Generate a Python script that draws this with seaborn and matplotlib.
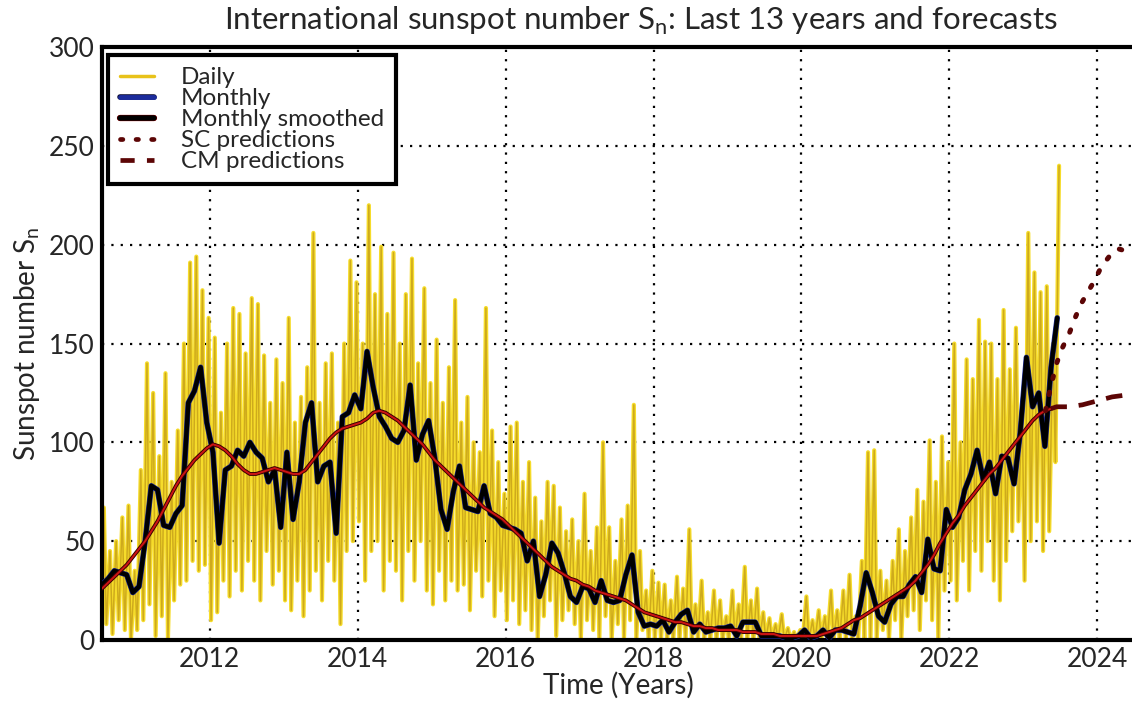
import numpy as np
import pandas as pd
import matplotlib
matplotlib.use("Agg")
import matplotlib.pyplot as plt
import matplotlib.patheffects as pe
from matplotlib.lines import Line2D
import seaborn as sns

# first month on the chart: July 2010, one value per month after that
first_year = 2010
first_month = 7

# monthly mean sunspot number (black line)
monthly = [
    28, 31, 35, 34, 33, 24,                                   # 2010 Jul-Dec
    27, 50, 78, 76, 58, 57, 64, 68, 120, 126, 138, 110,       # 2011
    95, 49, 86, 88, 96, 93, 100, 95, 92, 80, 86, 57,          # 2012
    95, 61, 80, 110, 120, 80, 88, 90, 54, 113, 115, 124,      # 2013
    117, 146, 128, 113, 108, 102, 100, 106, 129, 91, 104, 111,  # 2014
    92, 66, 56, 75, 88, 67, 66, 65, 78, 64, 62, 58,           # 2015
    57, 56, 54, 40, 50, 22, 33, 49, 44, 34, 22, 19,           # 2016
    27, 26, 19, 30, 20, 19, 20, 33, 43, 14, 7, 8,             # 2017
    7, 10, 4, 9, 13, 15, 4, 8, 4, 5, 6, 6,                    # 2018
    7, 2, 9, 9, 9, 2, 2, 2, 2, 1, 1, 2,                       # 2019
    5, 1, 2, 5, 1, 5, 5, 4, 3, 17, 34, 24,                    # 2020
    12, 9, 18, 22, 22, 28, 32, 24, 51, 36, 35, 66,            # 2021
    57, 62, 76, 84, 96, 81, 90, 74, 93, 92, 79, 105,          # 2022
    143, 118, 125, 98, 138, 163,                              # 2023 Jan-Jun
]

# 13-month smoothed sunspot number (red line)
smoothed = [
    26, 29, 32, 35, 38, 42,
    46, 50, 55, 60, 66, 72, 78, 83, 87, 91, 94, 97,
    99, 98, 96, 93, 89, 86, 84, 84, 85, 86, 87, 86,
    85, 84, 84, 86, 90, 94, 98, 102, 105, 107, 108, 109,
    110, 112, 115, 116, 115, 113, 111, 108, 105, 102, 99, 95,
    91, 88, 85, 82, 79, 76, 73, 70, 67, 65, 63, 61,
    58, 55, 52, 49, 46, 43, 40, 37, 35, 33, 31, 30,
    28, 27, 25, 24, 23, 22, 21, 20, 18, 16, 14, 13,
    12, 11, 10, 9, 9, 8, 7, 7, 6, 6, 5, 5,
    5, 5, 4, 4, 4, 3, 3, 3, 2, 2, 2, 2,
    2, 2, 2, 3, 4, 5, 6, 8, 10, 11, 13, 15,
    17, 19, 21, 23, 25, 27, 30, 34, 38, 43, 49, 54,
    59, 63, 68, 72, 76, 80, 84, 87, 91, 95, 99, 103,
    107, 111, 114, 116, 117,
]

# daily values: highest and lowest day of each month (yellow spikes)
daily_hi = [
    67, 45, 50, 62, 68, 35,
    86, 140, 125, 93, 135, 80, 106, 150, 191, 194, 177, 163,
    153, 115, 150, 168, 165, 145, 173, 170, 144, 120, 142, 130,
    163, 110, 123, 138, 206, 120, 140, 145, 110, 150, 192, 181,
    150, 220, 175, 199, 165, 196, 150, 175, 193, 140, 178, 130,
    152, 120, 138, 172, 110, 123, 100, 95, 168, 106, 90, 74,
    108, 110, 80, 90, 72, 60, 80, 78, 67, 55, 61, 50,
    74, 45, 57, 100, 57, 40, 61, 68, 119, 45, 25, 35,
    29, 28, 20, 32, 26, 56, 18, 30, 14, 25, 20, 12,
    25, 18, 37, 20, 26, 14, 11, 8, 13, 6, 4, 5,
    22, 10, 15, 12, 25, 15, 25, 33, 12, 40, 95, 96,
    35, 30, 40, 56, 45, 62, 76, 70, 101, 80, 103, 90,
    150, 100, 142, 132, 162, 151, 150, 132, 167, 137, 158, 120,
    206, 186, 176, 179, 150, 240,
]
daily_lo = [
    0, 8, 3, 10, 5, 0,
    5, 10, 18, 2, 12, 0, 20, 28, 30, 40, 35, 38,
    10, 14, 30, 22, 35, 25, 40, 30, 20, 45, 28, 35,
    20, 15, 30, 12, 25, 35, 20, 40, 30, 8, 45, 50,
    60, 30, 45, 50, 25, 40, 35, 20, 45, 30, 50, 25,
    18, 35, 20, 30, 25, 28, 15, 35, 22, 30, 12, 25,
    10, 20, 8, 15, 5, 0, 12, 20, 2, 10, 15, 8,
    0, 10, 5, 0, 12, 0, 8, 0, 10, 0, 5, 0,
    0, 0, 0, 0, 0, 0, 0, 0, 0, 0, 0, 0,
    0, 0, 0, 0, 0, 0, 0, 0, 0, 0, 0, 0,
    0, 0, 0, 0, 0, 0, 0, 0, 0, 0, 0, 0,
    0, 5, 0, 10, 0, 12, 15, 5, 20, 10, 0, 25,
    30, 20, 40, 25, 45, 35, 50, 30, 20, 40, 55, 60,
    30, 50, 60, 45, 55, 90,
]

# forecasts
sc_years = [2023.30, 2023.37, 2023.45, 2023.53, 2023.62, 2023.70, 2023.78, 2023.87,
            2023.95, 2024.03, 2024.12, 2024.20, 2024.28, 2024.37, 2024.45, 2024.55]
sc_vals = [116, 128, 140, 148, 155, 163, 170, 176, 181, 187, 192, 196, 198, 197, 195, 193]
cm_years = [2023.37, 2023.45, 2023.62, 2023.80, 2024.00, 2024.20, 2024.40, 2024.55]
cm_vals = [117, 118, 118, 119, 121, 123, 124, 125]


def month_time(n):
    k = np.arange(n)
    return first_year + (first_month - 1 + k + 0.5) / 12.0


t_month = month_time(len(monthly))
t_smooth = month_time(len(smoothed))
t_daily = month_time(len(daily_hi))

df_daily = pd.DataFrame({
    "t": np.ravel(np.column_stack([t_daily - 1 / 40, t_daily + 1 / 40])),
    "v": np.ravel(np.column_stack([daily_lo, daily_hi])),
})

sns.set_theme(style="white")
plt.rcParams["font.family"] = ["Lato", "DejaVu Sans"]
plt.rcParams["mathtext.fontset"] = "custom"
plt.rcParams["mathtext.rm"] = "Lato"

fig = plt.figure(figsize=(11.32, 7.04), dpi=100)
ax = fig.add_axes([0.090, 0.091, 0.912, 0.842])

dark_red = "#5c0505"

sns.lineplot(data=df_daily, x="t", y="v", ax=ax, sort=False, estimator=None,
             color="#f6dc2a", lw=3.0, zorder=2)
sns.lineplot(data=df_daily, x="t", y="v", ax=ax, sort=False, estimator=None,
             color="#b48a14", lw=1.1, alpha=0.6, zorder=2)
sns.lineplot(x=t_month, y=monthly, ax=ax, color="#1c2c9c", lw=4.0, zorder=3)
sns.lineplot(x=t_month, y=monthly, ax=ax, color="black", lw=3.2, zorder=3)
sns.lineplot(x=t_smooth, y=smoothed, ax=ax, color="#cc1414", lw=1.4, zorder=4,
             path_effects=[pe.Stroke(linewidth=2.8, foreground="#3a0000"), pe.Normal()])
sns.lineplot(x=sc_years, y=sc_vals, ax=ax, color=dark_red, lw=3.6, zorder=4,
             linestyle=(0, (0.5, 2.8)), dash_capstyle="round")
sns.lineplot(x=cm_years, y=cm_vals, ax=ax, color=dark_red, lw=3.4, zorder=4,
             linestyle=(0, (3.5, 2.5)))

ax.set_xlim(2010.54, 2024.5)
ax.set_ylim(0, 300)
ax.set_xticks(range(2012, 2025, 2))
ax.set_yticks(range(0, 301, 50))
ax.set_xticks(np.arange(2010.75, 2024.5, 0.25), minor=True)
ax.set_yticks(range(0, 301, 10), minor=True)
ax.grid(True, which="major", color="black", linestyle=(0, (1.0, 3.2)), linewidth=1.6)
ax.tick_params(which="major", direction="in", length=6, width=1.5, labelsize=19, pad=5)
ax.tick_params(which="minor", direction="in", length=3, width=1.2)
for side in ["left", "top", "bottom"]:
    ax.spines[side].set_linewidth(3)
    ax.spines[side].set_color("black")
ax.spines["right"].set_visible(False)

ax.set_xlabel("Time (Years)", fontsize=20, labelpad=0)
ax.set_ylabel(r"Sunspot number S$_\mathregular{n}$", fontsize=20)
ax.yaxis.set_label_coords(-0.058, 0.5)

fig.text(641 / 1132, 1 - 21 / 704,
         r"International sunspot number S$_\mathregular{n}$: Last 13 years and forecasts",
         ha="center", va="center", fontsize=22.5)

handles = [
    Line2D([], [], color="#e8c21a", lw=2.5),
    Line2D([], [], color="#1c2c9c", lw=3.5, path_effects=[pe.Stroke(linewidth=4, foreground="#0a0a30"), pe.Normal()]),
    Line2D([], [], color="black", lw=4, path_effects=[pe.Stroke(linewidth=4.5, foreground="#aa0000"), pe.Normal()]),
    Line2D([], [], color=dark_red, lw=3.4, linestyle=(0, (0.5, 2.8)), dash_capstyle="round"),
    Line2D([], [], color=dark_red, lw=3.4, linestyle=(0, (3.0, 2.6))),
]
labels = ["Daily", "Monthly", "Monthly smoothed", "SC predictions", "CM predictions"]
leg = ax.legend(handles, labels, loc="upper left", bbox_to_anchor=(0.006, 0.987),
                borderaxespad=0, fontsize=17.5, frameon=True, fancybox=False,
                framealpha=1, handlelength=1.4, handletextpad=1.1, labelspacing=0.0,
                borderpad=0.5)
leg.get_frame().set_edgecolor("black")
leg.get_frame().set_linewidth(3)
leg.set_zorder(10)

fig.savefig("out.png", dpi=100)
